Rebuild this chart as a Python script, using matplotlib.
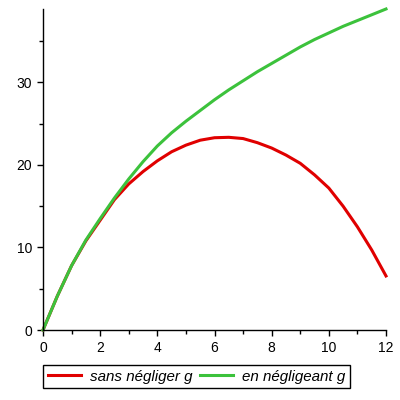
import matplotlib
matplotlib.use('Agg')
import matplotlib.pyplot as plt
from matplotlib.ticker import MultipleLocator

# values
t = [0, 0.5, 1, 1.5, 2, 2.5, 3, 3.5, 4, 4.5, 5, 5.5, 6, 6.5, 7, 7.5,
     8, 8.5, 9, 9.5, 10, 10.5, 11, 11.5, 12]
avec_g = [0, 4.1, 7.8, 10.8, 13.3, 15.8, 17.7, 19.2, 20.5, 21.6, 22.4, 23.0,
          23.3, 23.35, 23.2, 22.7, 22.05, 21.2, 20.2, 18.8, 17.2, 15.0, 12.5,
          9.7, 6.55]
sans_g = [0, 4.1, 7.8, 10.9, 13.5, 16.0, 18.3, 20.4, 22.3, 23.9, 25.3, 26.6,
          27.9, 29.1, 30.2, 31.3, 32.3, 33.3, 34.3, 35.2, 36.0, 36.8, 37.5,
          38.2, 38.9]

labels = ['sans négliger g', 'en négligeant g']

plt.rcParams['font.family'] = ['Liberation Sans', 'DejaVu Sans']

fig = plt.figure(figsize=(4, 4), dpi=100)
ax = fig.add_axes([43 / 400, 70 / 400, 343 / 400, 321 / 400])

ax.plot(t, avec_g, color='#e00000', lw=2.2, label=labels[0], clip_on=False)
ax.plot(t, sans_g, color='#3cc23c', lw=2.2, label=labels[1], clip_on=False)

ax.set_xlim(0, 12)
ax.set_ylim(0, 38.9)
ax.spines['top'].set_visible(False)
ax.spines['right'].set_visible(False)
ax.spines['left'].set_linewidth(1)
ax.spines['bottom'].set_linewidth(1)

ax.xaxis.set_major_locator(MultipleLocator(2))
ax.xaxis.set_minor_locator(MultipleLocator(1))
ax.yaxis.set_major_locator(MultipleLocator(10))
ax.yaxis.set_minor_locator(MultipleLocator(5))
ax.tick_params(which='major', length=4, width=1, labelsize=10, pad=4)
ax.tick_params(which='minor', length=3, width=1)

leg = fig.legend(loc='upper left', bbox_to_anchor=(43 / 400, 1 - 365 / 400),
                 ncol=2, frameon=True, fancybox=False, edgecolor='black',
                 framealpha=1, handlelength=2.2, handletextpad=0.6,
                 columnspacing=0.5, borderpad=0.3, borderaxespad=0,
                 prop={'style': 'italic', 'size': 10.9})
leg.get_frame().set_linewidth(1)

fig.savefig('out.png', dpi=100)
